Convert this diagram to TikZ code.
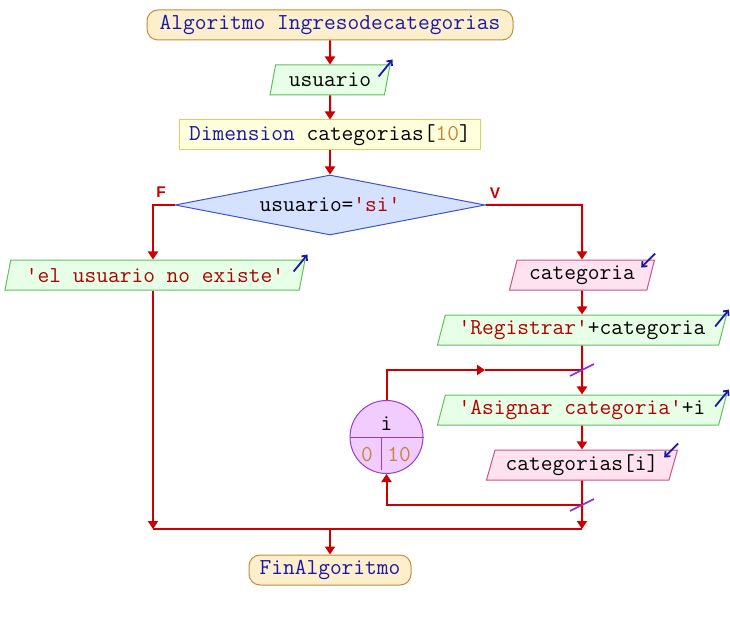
\documentclass[tikz,border=0pt]{standalone}
\usepackage{fontspec}
\newfontfamily\etiqfont{Liberation Sans}
\usetikzlibrary{shapes.geometric,arrows.meta,calc}

\definecolor{rojoflujo}{RGB}{204,0,0}
\definecolor{azulclave}{RGB}{24,24,168}
\definecolor{rojotexto}{RGB}{176,0,0}
\definecolor{numtexto}{RGB}{200,130,60}
\definecolor{fondoini}{RGB}{253,238,204}
\definecolor{bordeini}{RGB}{196,140,60}
\definecolor{fondoverde}{RGB}{230,255,230}
\definecolor{bordeverde}{RGB}{96,192,96}
\definecolor{fondorosa}{RGB}{255,226,240}
\definecolor{bordero}{RGB}{200,84,140}
\definecolor{fondoamar}{RGB}{255,255,220}
\definecolor{bordeamar}{RGB}{216,208,96}
\definecolor{fondoazul}{RGB}{212,226,255}
\definecolor{bordeazul}{RGB}{60,84,200}
\definecolor{fondolila}{RGB}{240,204,255}
\definecolor{bordelila}{RGB}{150,60,200}
\definecolor{marcalila}{RGB}{140,50,220}

\newcommand{\pskw}[1]{\textcolor{azulclave}{#1}}
\newcommand{\psstr}[1]{\textcolor{rojotexto}{\textquotesingle#1\textquotesingle}}
\newcommand{\psnum}[1]{\textcolor{numtexto}{#1}}

\begin{document}
\begin{tikzpicture}[x=1pt, y=-1pt,
    every node/.style={font=\ttfamily\fontsize{22.8}{24}\selectfont, inner sep=0pt},
    inicio/.style={draw=bordeini, fill=fondoini, line width=1pt, rounded corners=11pt, minimum height=30pt},
    paralelo/.style={trapezium, trapezium left angle=68, trapezium right angle=112,
        trapezium stretches body, line width=1pt, minimum height=30pt},
    escribir/.style={paralelo, draw=bordeverde, fill=fondoverde},
    leer/.style={paralelo, draw=bordero, fill=fondorosa},
    conector/.style={draw=rojoflujo, line width=2pt},
    flujo/.style={conector, -{Triangle[width=10pt,length=8pt]}},
    icono/.style={draw=azulclave, line width=1.8pt, -{Straight Barb[length=4pt,width=7pt]}},
    marca/.style={draw=marcalila, line width=1.6pt},
    rama/.style={font=\etiqfont\fontsize{15.5}{17}\selectfont\bfseries, text=rojoflujo}]
    \useasboundingbox (0,0) rectangle (730,620);

    % Inicio y fin
    \node[inicio, minimum width=366pt] (inicio) at (330,25) {\pskw{Algoritmo Ingresodecategorias}};
    \node[inicio, minimum width=162pt] (fin) at (330,570) {\pskw{FinAlgoritmo}};

    % Bloques principales
    \node[escribir, minimum width=120pt] (usuario) at (330,80) {usuario};
    \node[draw=bordeamar, fill=fondoamar, line width=1pt, minimum width=301pt, minimum height=30pt] (dim) at (330,135)
        {\pskw{Dimension} categorias[\psnum{10}]};
    \node[diamond, aspect=5, draw=bordeazul, fill=fondoazul, line width=1pt, minimum width=310pt, minimum height=60pt] (cond) at (330,205)
        {usuario=\psstr{si}};

    % Rama falsa
    \node[escribir, minimum width=300pt] (noexiste) at (155,275) {\psstr{el usuario no existe}};

    % Rama verdadera
    \node[leer, minimum width=145pt] (categoria) at (582,275) {categoria};
    \node[escribir, minimum width=289pt] (registrar) at (582,330) {\psstr{Registrar}+categoria};
    \node[escribir, minimum width=289pt] (asignar) at (582,410) {\psstr{Asignar categoria}+i};
    \node[leer, minimum width=191pt] (leercat) at (582,465) {categorias[i]};

    % Ciclo para
    \node[circle, draw=bordelila, fill=fondolila, line width=1pt, minimum size=73pt] (ciclo) at (386.5,437) {};
    \draw[bordelila, line width=1pt] (ciclo.west) -- (ciclo.east);
    \draw[bordelila, line width=1pt] (381,437) -- (381,470);
    \node (var) at (386.5,424) {i};
    \node[text=numtexto] (desde) at (367,455) {0};
    \node[text=numtexto] (hasta) at (399,455) {10};

    % Etiquetas de la condicion
    \node[rama] (falso) at (161,192) {F};
    \node[rama] (verdad) at (495,193) {V};

    % Puntos de union
    \coordinate (izq) at (153,205);
    \coordinate (der) at (582,205);
    \coordinate (unionizq) at (153,529);
    \coordinate (unionder) at (582,529);
    \coordinate (unionfin) at (330,529);
    \coordinate (bucleent) at (582,370);
    \coordinate (buclemed) at (485,370);
    \coordinate (buclesal) at (582,505);

    % Flechas
    \draw[flujo] (inicio.south) -- (usuario.north);
    \draw[flujo] (usuario.south) -- (dim.north);
    \draw[flujo] (dim.south) -- (cond.north);
    \draw[flujo] (cond.west) -- (izq) -- (noexiste.north -| izq);
    \draw[flujo] (cond.east) -- (der) -- (categoria.north);
    \draw[flujo] (noexiste.south -| izq) -- (unionizq);
    \draw[flujo] (categoria.south) -- (registrar.north);
    \draw[flujo] (registrar.south) -- (asignar.north);
    \draw[flujo] (asignar.south) -- (leercat.north);
    \draw[flujo] (leercat.south) -- (unionder);
    \draw[conector] (unionizq) -- (unionder);
    \draw[flujo] (unionfin) -- (fin.north);
    \draw[flujo] (ciclo.north) |- (buclemed);
    \draw[conector] (buclemed) -- (bucleent);
    \draw[flujo] (buclesal) -| (ciclo.south);

    % Marcas del ciclo
    \draw[marca] ($(bucleent)+(-12,6)$) -- ($(bucleent)+(12,-6)$);
    \draw[marca] ($(buclesal)+(-12,6)$) -- ($(buclesal)+(12,-6)$);

    % Iconos de entrada y salida
    \draw[icono] ($(usuario.top right corner)+(-12,12)$) -- ($(usuario.top right corner)+(2,-5)$);
    \draw[icono] ($(noexiste.top right corner)+(-12,12)$) -- ($(noexiste.top right corner)+(2,-5)$);
    \draw[icono] ($(registrar.top right corner)+(-12,12)$) -- ($(registrar.top right corner)+(2,-5)$);
    \draw[icono] ($(asignar.top right corner)+(-12,12)$) -- ($(asignar.top right corner)+(2,-5)$);
    \draw[icono] ($(categoria.top right corner)+(0,-6)$) -- ($(categoria.top right corner)+(-14,8)$);
    \draw[icono] ($(leercat.top right corner)+(0,-6)$) -- ($(leercat.top right corner)+(-14,8)$);
\end{tikzpicture}
\end{document}
